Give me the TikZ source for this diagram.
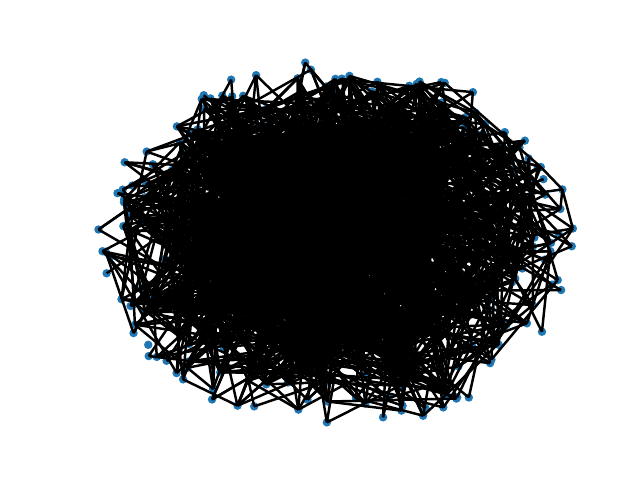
\documentclass[tikz,border=0pt]{standalone}
\usepackage{xcolor}
\definecolor{nxblue}{HTML}{1F77B4}
\tikzset{
  vertex/.style={circle,fill=nxblue,inner sep=0pt,minimum size=6pt},
  link/.style={black,line width=1.75pt}
}

\begin{document}
\begin{tikzpicture}
\useasboundingbox (0,0) rectangle (16,12);
\pgfmathsetseed{7}
% vertices, spread over an ellipse, denser towards the middle
\foreach \i in {1,...,500}{
  \pgfmathsetmacro\ang{360*rnd}
  \pgfmathsetmacro\rad{rnd^0.6}
  \pgfmathsetmacro\vx{8.44+6.0*\rad*cos(\ang)}
  \pgfmathsetmacro\vy{5.9+4.6*\rad*sin(\ang)}
  \pgfmathtruncatemacro\ntry{4+36*(1-\rad)}
  \expandafter\xdef\csname vx\i\endcsname{\vx}
  \expandafter\xdef\csname vy\i\endcsname{\vy}
  \expandafter\xdef\csname vt\i\endcsname{\ntry}
  \node[vertex] (v\i) at (\vx,\vy) {};
}
% edges between vertices that lie not too far apart
\foreach \i in {1,...,500}{
  \foreach \t in {1,...,\csname vt\i\endcsname}{
    \pgfmathrandominteger{\j}{1}{500}
    \pgfmathsetmacro\dd{veclen(\csname vx\i\endcsname-\csname vx\j\endcsname,\csname vy\i\endcsname-\csname vy\j\endcsname)}
    \ifnum\i=\j\else
      \ifdim\dd pt<3.6pt
        \draw[link] (v\i.center) -- (v\j.center);
      \fi
    \fi
  }
}
\end{tikzpicture}
\end{document}
